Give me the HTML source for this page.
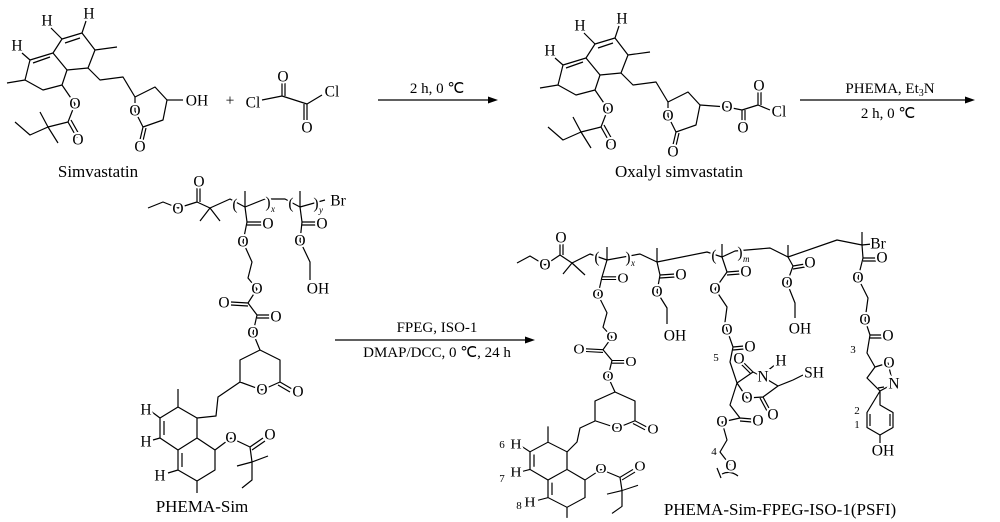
<!DOCTYPE html>
<html><head><meta charset="utf-8"><style>
html,body{margin:0;padding:0;background:#fff;}
svg{display:block;}
.b{fill:none;stroke:#000;stroke-width:1.2;stroke-linejoin:round;}
text{font-family:"Liberation Serif",serif;fill:#000;}
.a{font-size:15.5px;text-anchor:middle;dominant-baseline:central;stroke:#fff;stroke-width:4px;paint-order:stroke;}
.n{font-size:11px;text-anchor:middle;dominant-baseline:central;}
.s{font-size:9px;font-style:italic;}
.l{font-size:17px;text-anchor:middle;}
</style></head><body>
<svg width="1000" height="522" viewBox="0 0 1000 522" xmlns="http://www.w3.org/2000/svg">

<!-- Simvastatin skeleton -->
<g>
<path class="b" d="M62,39 L82,33 L95,50 L88,68 L67,70 L53,53 Z M65,43 L80,38 M53,53 L30,60 L25,80 L43,90 L62,85 L67,70 M50,57 L33,63 M25,80 L7,83 M95,50 L117,47 M51,28 L62,39 M86,21 L82,33 M22,53 L30,60 M62,85 L75,104 L68,122 M68,122 L77,138 M71,120 L80,136 M68,122 L48,127 L40,112 M48,127 L58,143 M48,127 L30,135 L15,122 M88,68 L100,80 L123,77 L135,97 M135,97 L155,87 L167,100 L163,120 L143,127 L135,111 L135,97 M143,127 L139,144 M146,128 L142,145"/>
<text class="a" x="47" y="21">H</text><text class="a" x="89" y="14">H</text><text class="a" x="17" y="46">H</text>
<text class="a" x="75" y="104">O</text><text class="a" x="78" y="140">O</text>
<text class="a" x="135" y="111">O</text><text class="a" x="140" y="147">O</text>
</g>
<path class="b" d="M167,100 L183,100"/>
<text class="a" x="197" y="101">OH</text>
<text class="l" x="98" y="177">Simvastatin</text>

<!-- oxalyl chloride -->
<text class="a" x="230" y="101">+</text>
<path class="b" d="M262,100 L282,96 L307,104 L322,95 M282,96 L282,82 M285,96 L285,82 M307,104 L307,120 M304,104 L304,120"/>
<text class="a" x="253" y="103">Cl</text><text class="a" x="283" y="77">O</text>
<text class="a" x="307" y="128">O</text><text class="a" x="332" y="92">Cl</text>

<!-- arrow 1 -->
<path class="b" d="M378,100 L492,100"/><path d="M498,100 L488,96.5 L488,103.5 Z"/>
<text class="l" x="437" y="93" style="font-size:15px">2 h, 0 ℃</text>

<!-- Oxalyl simvastatin -->
<g transform="translate(533,5)">
<path class="b" d="M62,39 L82,33 L95,50 L88,68 L67,70 L53,53 Z M65,43 L80,38 M53,53 L30,60 L25,80 L43,90 L62,85 L67,70 M50,57 L33,63 M25,80 L7,83 M95,50 L117,47 M51,28 L62,39 M86,21 L82,33 M22,53 L30,60 M62,85 L75,104 L68,122 M68,122 L77,138 M71,120 L80,136 M68,122 L48,127 L40,112 M48,127 L58,143 M48,127 L30,135 L15,122 M88,68 L100,80 L123,77 L135,97 M135,97 L155,87 L167,100 L163,120 L143,127 L135,111 L135,97 M143,127 L139,144 M146,128 L142,145"/>
<text class="a" x="47" y="21">H</text><text class="a" x="89" y="14">H</text><text class="a" x="17" y="46">H</text>
<text class="a" x="75" y="104">O</text><text class="a" x="78" y="140">O</text>
<text class="a" x="135" y="111">O</text><text class="a" x="140" y="147">O</text>
</g>
<path class="b" d="M700,105 L727,107 L742,110 L758,105 L770,110 M742,110 L742,125 M745,110 L745,125 M758,105 L758,90 M761,105 L761,90"/>
<text class="a" x="727" y="107">O</text><text class="a" x="743" y="128">O</text>
<text class="a" x="759" y="86">O</text><text class="a" x="779" y="112">Cl</text>
<text class="l" x="679" y="177">Oxalyl simvastatin</text>

<!-- arrow 2 -->
<path class="b" d="M800,100 L969,100"/><path d="M975,100 L965,96.5 L965,103.5 Z"/>
<text class="l" x="890" y="93" style="font-size:15px">PHEMA, Et<tspan style="font-size:10px" dy="3">3</tspan><tspan dy="-3">N</tspan></text>
<text class="l" x="888" y="118" style="font-size:15px">2 h, 0 ℃</text>

<!-- PHEMA-Sim backbone -->
<path class="b" d="M148,208 L163,202 L178,208 L197,202 L210,208 M197,202 L197,188 M200,202 L200,188 M210,208 L200,221 M210,208 L220,221 M210,208 L230,199 L245,207 L265,199 L285,199 L300,207 L325,200 M245,207 L245,191 M300,207 L300,191"/>
<text class="a" x="178" y="209">O</text><text class="a" x="199" y="182">O</text>
<text class="a" x="235" y="205">(</text><text class="a" x="268" y="203">)</text><text class="s" x="271" y="212">x</text>
<text class="a" x="291" y="204">(</text><text class="a" x="316" y="204">)</text><text class="s" x="319" y="213">y</text>
<text class="a" x="338" y="201">Br</text>
<path class="b" d="M300,207 L302,222 L300,241 L310,262 L310,280 M302,222 L317,222 M302,225 L317,225"/>
<text class="a" x="322" y="224">O</text><text class="a" x="300" y="241">O</text><text class="a" x="318" y="289">OH</text>

<!-- PHEMA-Sim side chain upper -->
<g>
<path class="b" d="M247,222 L262,222 M247,225 L262,225 M247,222 L243,242 L252,262 L248,278 L257,289 L248,303 M248,303 L231,302 M248,306 L231,305 M248,303 L257,315 M257,315 L270,315 M257,318 L270,318 M257,315 L253,333 L260,350 M260,350 L280,360 L280,382 L262,390 L240,382 L240,360 Z M280,382 L292,389 M278,385 L290,392"/>
<text class="a" x="268" y="224">O</text><text class="a" x="243" y="242">O</text><text class="a" x="257" y="289">O</text>
<text class="a" x="224" y="303">O</text><text class="a" x="276" y="317">O</text><text class="a" x="253" y="333">O</text>
<text class="a" x="262" y="390">O</text><text class="a" x="298" y="392">O</text>
</g>
<path class="b" d="M245,207 L247,222 M240,382 L218,397 L216,416 L197,418"/>
<g>
<path class="b" d="M178,407 L197,418 L197,438 L178,450 L160,438 L160,418 Z M164,421 L164,435 M178,407 L178,389 M152,412 L160,418 M153,440 L160,438 M197,438 L215,450 L215,470 L197,481 L178,470 L178,450 M182,453 L182,467 M197,481 L197,493 M168,473 L178,470 M215,450 L231,438 L250,447 L252,462 M250,447 L263,438 M252,450 L265,441 M252,462 L237,466 M252,462 L268,456 M252,462 L252,480 L242,488"/>
<text class="a" x="146" y="410">H</text><text class="a" x="146" y="442">H</text><text class="a" x="160" y="476">H</text>
<text class="a" x="231" y="438">O</text><text class="a" x="270" y="435">O</text>
</g>
<text class="l" x="202" y="512">PHEMA-Sim</text>

<!-- arrow 3 -->
<path class="b" d="M335,340 L529,340"/><path d="M535,340 L525,336.5 L525,343.5 Z"/>
<text class="l" x="437" y="332" style="font-size:15px">FPEG, ISO-1</text>
<text class="l" x="437" y="357" style="font-size:15px">DMAP/DCC, 0 ℃, 24 h</text>

<!-- Product backbone -->
<path class="b" d="M517,263 L530,256 L545,265 L560,255 L572,263 M560,255 L560,243 M563,255 L563,243 M572,263 L563,274 M572,263 L585,275 M572,263 L590,254 L607,260 L640,254 L657,262 L707,252 L722,257 L735,251 L770,248 L788,257 L837,240 L862,245 L872,244 M607,260 L607,247 M657,262 L657,248 M722,257 L722,244 M788,257 L788,245 M862,245 L862,232"/>
<text class="a" x="545" y="265">O</text><text class="a" x="561" y="238">O</text>
<text class="a" x="597" y="258">(</text><text class="a" x="628" y="258">)</text><text class="s" x="631" y="266">x</text>
<text class="a" x="714" y="256">(</text><text class="a" x="740" y="253">)</text><text class="s" x="743" y="262">m</text>
<text class="a" x="878" y="244">Br</text>

<!-- chain 1 -->
<g transform="translate(355,77) scale(1,0.9)">
<path class="b" d="M247,222 L262,222 M247,225 L262,225 M247,222 L243,242 L252,262 L248,278 L257,289 L248,303 M248,303 L231,302 M248,306 L231,305 M248,303 L257,315 M257,315 L270,315 M257,318 L270,318 M257,315 L253,333 L260,350 M260,350 L280,360 L280,382 L262,390 L240,382 L240,360 Z M280,382 L292,389 M278,385 L290,392"/>
<text class="a" x="268" y="224">O</text><text class="a" x="243" y="242">O</text><text class="a" x="257" y="289">O</text>
<text class="a" x="224" y="303">O</text><text class="a" x="276" y="317">O</text><text class="a" x="253" y="333">O</text>
<text class="a" x="262" y="390">O</text><text class="a" x="298" y="392">O</text>
</g>
<path class="b" d="M607,260 L602,277 M595,421 L580,428 L577,442 L567,452"/>
<g transform="translate(370,84) scale(1,0.88)">
<path class="b" d="M178,407 L197,418 L197,438 L178,450 L160,438 L160,418 Z M164,421 L164,435 M178,407 L178,389 M152,412 L160,418 M153,440 L160,438 M197,438 L215,450 L215,470 L197,481 L178,470 L178,450 M182,453 L182,467 M197,481 L197,493 M168,473 L178,470 M215,450 L231,438 L250,447 L252,462 M250,447 L263,438 M252,450 L265,441 M252,462 L237,466 M252,462 L268,456 M252,462 L252,480 L242,488"/>
<text class="a" x="146" y="410">H</text><text class="a" x="146" y="442">H</text><text class="a" x="160" y="476">H</text>
<text class="a" x="231" y="438">O</text><text class="a" x="270" y="435">O</text>
</g>
<text class="n" x="502" y="445">6</text><text class="n" x="502" y="479">7</text><text class="n" x="519" y="506">8</text>

<!-- chain 2 -->
<path class="b" d="M657,262 L660,275 L657,292 L667,308 L667,324 M660,275 L675,274 M660,278 L675,277"/>
<text class="a" x="681" y="275">O</text><text class="a" x="657" y="292">O</text><text class="a" x="675" y="336">OH</text>

<!-- chain 3 FPEG -->
<path class="b" d="M722,257 L727,272 L715,289 L727,307 L725,322 L727,330 L733,347 L730,362 L737,383 L753,372 L763,377 L778,386 L793,380 L803,375 M727,272 L740,271 M727,275 L740,274 M733,347 L744,346 M733,350 L744,349 M753,372 L743,362 M751,374 L741,364 M766,372 L776,364 M737,383 L747,398 L763,397 L778,386 M763,397 L770,410 M760,398 L767,411 M737,383 L730,405 L740,418 L722,422 L727,440 L720,452 L730,465 M740,418 L752,419 M740,421 L752,422 M722,474 Q730,470 738,476 M717,468 L721,478"/>
<text class="a" x="746" y="272">O</text><text class="a" x="715" y="289">O</text><text class="a" x="727" y="330">O</text>
<text class="a" x="750" y="347">O</text><text class="a" x="739" y="359">O</text><text class="a" x="763" y="377">N</text>
<text class="a" x="781" y="361">H</text><text class="a" x="814" y="373">SH</text>
<text class="a" x="747" y="398">O</text><text class="a" x="773" y="415">O</text>
<text class="a" x="758" y="421">O</text><text class="a" x="722" y="422">O</text><text class="a" x="731" y="466">O</text>
<text class="n" x="716" y="358">5</text><text class="n" x="714" y="452">4</text>

<!-- chain 4 -->
<path class="b" d="M788,257 L793,266 L787,283 L795,303 L795,318 M793,266 L805,264 M793,269 L805,267"/>
<text class="a" x="810" y="263">O</text><text class="a" x="787" y="283">O</text><text class="a" x="800" y="329">OH</text>

<!-- chain 5 ISO -->
<path class="b" d="M862,245 L863,258 L858,278 L868,298 L865,320 L870,335 L867,353 L875,367 L888,363 L893,384 L880,391 L867,378 L875,367 M863,258 L876,258 M863,261 L876,261 M870,335 L883,335 M870,338 L883,338 M884,387 L878,388 M880,391 L880,405 L893,412.5 L893,427.5 L880,435 L867,427.5 L867,412.5 Z M890,414 L890,426 M870,414 L870,426 M880,435 L880,443"/>
<text class="a" x="882" y="258">O</text><text class="a" x="858" y="278">O</text><text class="a" x="865" y="320">O</text>
<text class="a" x="888" y="336">O</text><text class="a" x="889" y="363">O</text><text class="a" x="894" y="384">N</text>
<text class="a" x="883" y="451">OH</text>
<text class="n" x="853" y="350">3</text><text class="n" x="857" y="411">2</text><text class="n" x="857" y="425">1</text>

<text class="l" x="780" y="515">PHEMA-Sim-FPEG-ISO-1(PSFI)</text>
</svg>
</body></html>
